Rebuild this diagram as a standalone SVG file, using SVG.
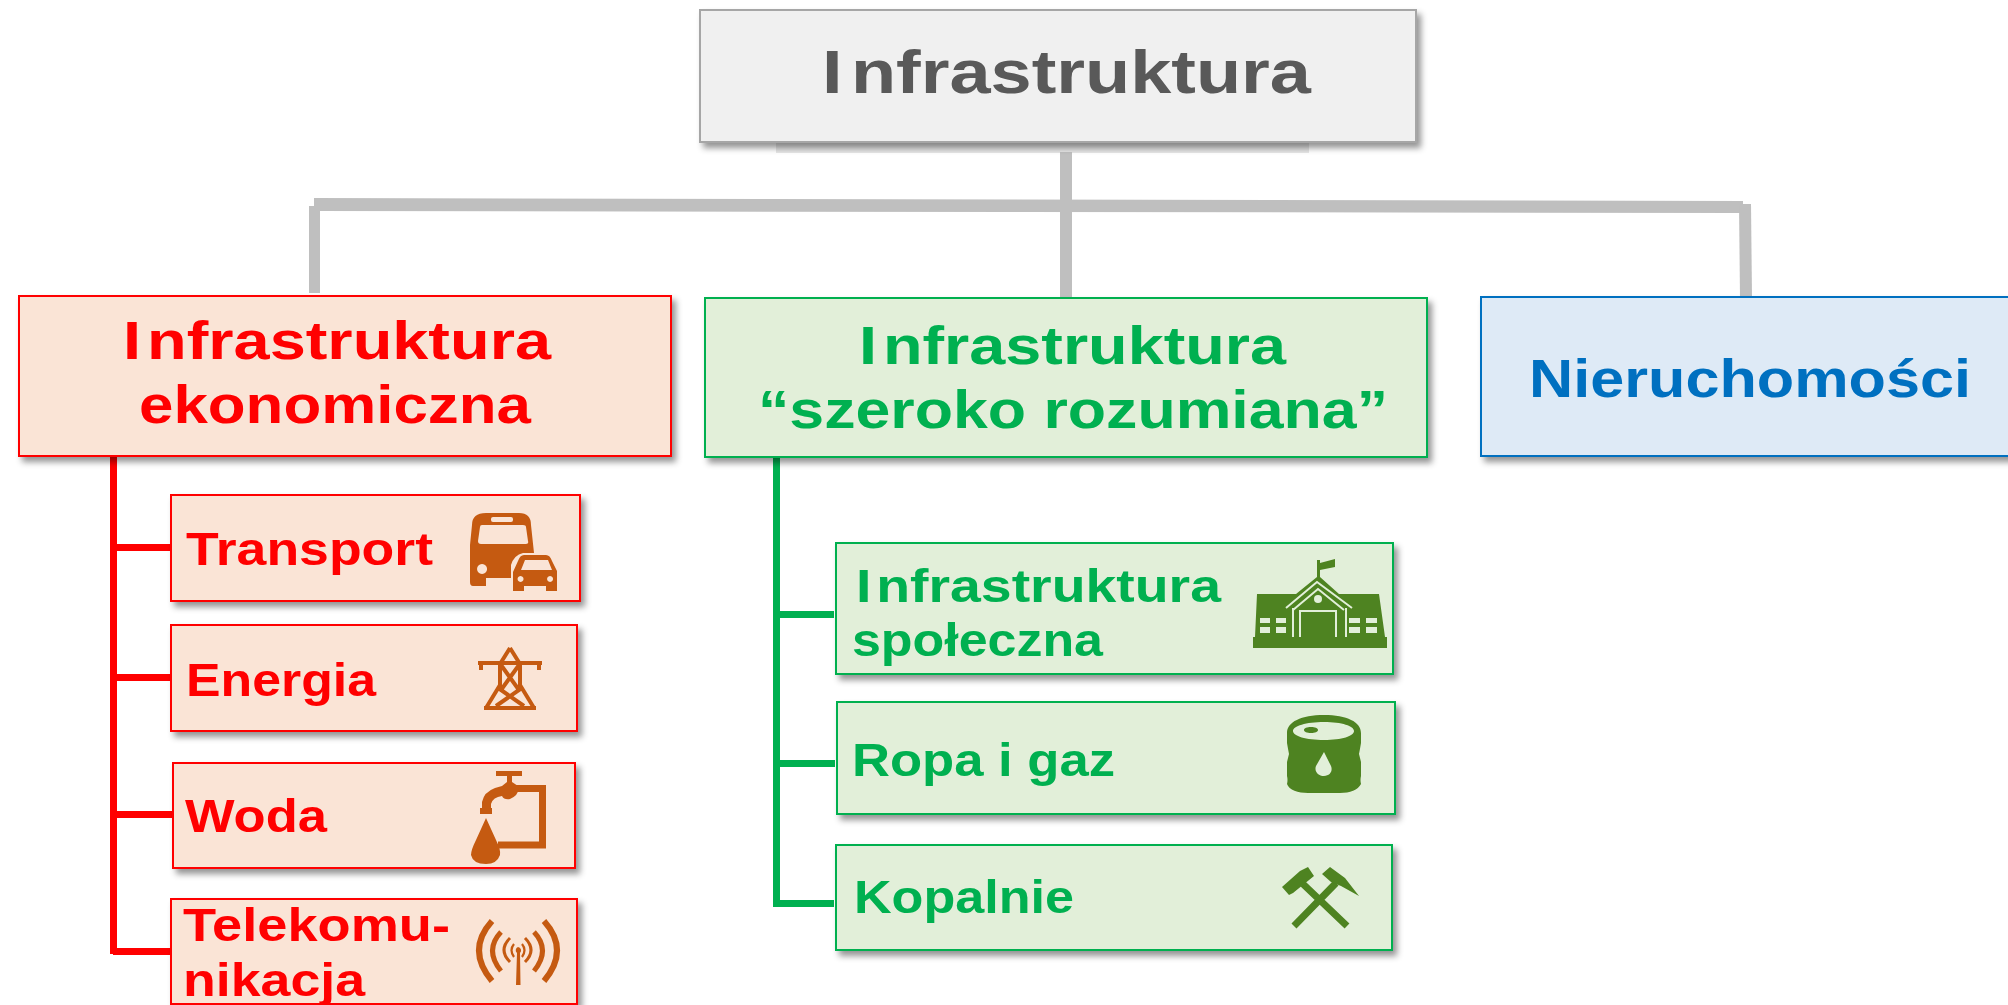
<svg xmlns="http://www.w3.org/2000/svg" width="2008" height="1005" viewBox="0 0 2008 1005">
<style>
text{font-family:"Liberation Sans",Arial,sans-serif;font-weight:bold}
.red text{fill:#ff0000}.grn text{fill:#00b050}.blu text{fill:#0070c0}
.red rect{fill:#fae4d6;stroke:#ff0000;stroke-width:2;filter:url(#sh)}
.grn rect{fill:#e2efd9;stroke:#00b050;stroke-width:2;filter:url(#sh)}
.blu rect{fill:#deeaf6;stroke:#0070c0;stroke-width:2;filter:url(#sh)}
.top rect{fill:#f0f0f0;stroke:#a6a6a6;stroke-width:2;filter:url(#sh)}
.big{font-size:54px}.mid{font-size:46px}
.br{fill:#c55a11}.gi{fill:#4e8321}
.brs{fill:none;stroke:#c55a11}.gis{fill:none;stroke:#4e8321}
.li{fill:none;stroke:#e2efd9}
</style>
<defs>
<filter id="sh" x="-5%" y="-10%" width="112%" height="125%"><feDropShadow dx="4" dy="5" stdDeviation="3" flood-color="#000" flood-opacity=".42"/></filter>
</defs>
<rect x="776" y="142" width="533" height="11" fill="#e6e6e6"/>
<g id="connectors">
<g fill="#bfbfbf">
<polygon points="314,198 1743,201 1743,213 314,211"/>
<rect x="309" y="206" width="11" height="87"/>
<rect x="1060" y="152" width="12" height="145"/>
<polygon points="1739,204 1751,204 1752,298 1740,298"/>
</g>
<g fill="#ff0000">
<rect x="110" y="456" width="7" height="498"/>
<rect x="113" y="544" width="58" height="7"/>
<rect x="110" y="674" width="61" height="7"/>
<rect x="110" y="811" width="63" height="7"/>
<rect x="113" y="948" width="58" height="7"/>
</g>
<g fill="#00b050">
<rect x="773" y="457" width="7" height="450"/>
<rect x="776" y="611" width="58" height="7"/>
<rect x="776" y="760" width="59" height="7"/>
<rect x="776" y="900" width="58" height="7"/>
</g>
</g>
<g id="node-top" class="top"><rect x="700" y="10" width="716" height="132"/>
<text x="822" y="93" font-size="62" fill="#595959" textLength="489" lengthAdjust="spacingAndGlyphs">I<tspan dx="7">nfrastruktura</tspan></text></g>
<g id="node-ekon" class="red"><rect x="19" y="296" width="652" height="160"/>
<text class="big" x="123" y="359" textLength="428" lengthAdjust="spacingAndGlyphs">I<tspan dx="5">nfrastruktura</tspan></text>
<text class="big" x="139" y="423" textLength="392" lengthAdjust="spacingAndGlyphs">ekonomiczna</text></g>
<g id="node-szer" class="grn"><rect x="705" y="298" width="722" height="159"/>
<text class="big" x="859" y="364" textLength="427" lengthAdjust="spacingAndGlyphs">I<tspan dx="5">nfrastruktura</tspan></text>
<text class="big" x="758" y="428" textLength="630" lengthAdjust="spacingAndGlyphs">“szeroko rozumiana”</text></g>
<g id="node-nier" class="blu"><rect x="1481" y="297" width="540" height="159"/>
<text class="big" x="1529" y="397" textLength="442" lengthAdjust="spacingAndGlyphs">Nieruchomości</text></g>

<g id="node-transport" class="red"><rect x="171" y="495" width="409" height="106"/>
<text class="mid" x="186" y="565" textLength="247" lengthAdjust="spacingAndGlyphs">Transport</text>
<path class="br" fill-rule="evenodd" d="M486 513H519Q531 513 531 525L534 553H523Q514 555 511 565V578H486V586H473Q470 586 470 582V545L472 525Q472 513 486 513ZM493 517Q491 517 491 519V520Q491 522 493 522H511Q513 522 513 520V519Q513 517 511 517ZM482 525Q480 525 480 527L478 541Q478 544 481 544H526Q529 544 528 541L526 527Q526 525 523 525ZM482 564a5 5 0 1 0 .1 0Z"/>
<path class="br" fill-rule="evenodd" d="M524 555H546Q550 555 552 561L557 571V591H546V586H524V591H513V572L518 561Q520 555 524 555ZM525 560L521 570H552L548 560ZM520.500 576a3 3 0 1 0 .1 0ZM550 576a3 3 0 1 0 .1 0Z"/>
</g>
<g id="node-energia" class="red"><rect x="171" y="625" width="406" height="106"/>
<text class="mid" x="186" y="696" textLength="190" lengthAdjust="spacingAndGlyphs">Energia</text>
<g class="brs" stroke-width="4"><path d="M510 648L500 664V685L486 708M510 648L520 664V685L534 708M484 708H536M478 663H542M481 663v7M539 663v7M501 665L519 690L496 706M519 665L501 690L524 706"/></g>
</g>
<g id="node-woda" class="red"><rect x="173" y="763" width="402" height="105"/>
<text class="mid" x="185" y="832" textLength="142" lengthAdjust="spacingAndGlyphs">Woda</text>
<path class="brs" stroke-width="7" d="M516 788.500H542.500V845H498"/>
<path class="br" d="M496 771H522V776H512V782L518 786Q520 795 510 799Q504 800 502 796Q493 797 491 804V808H492V814H480V808H482V802Q484 792 495 788L502 786L507 782V776H496Z"/>
<path class="br" d="M486 818L496 840Q501 850 500 855Q497 864 486 864Q473 864 471 855Q471 850 476 840Z"/>
</g>
<g id="node-telekom" class="red"><rect x="171" y="899" width="406" height="105"/>
<text class="mid" x="183" y="941" textLength="267" lengthAdjust="spacingAndGlyphs">Telekomu-</text>
<text class="mid" x="183" y="996" textLength="182" lengthAdjust="spacingAndGlyphs">nikacja</text>
<g class="brs"><path stroke-width="6" d="M492 921Q466 950 492 981M544 921Q570 950 544 981"/><path stroke-width="5" d="M501 932Q484 950 501 971M534 932Q551 950 534 971"/><path stroke-width="3" d="M510 938Q498 950 510 962M525 938Q537 950 525 962"/><path stroke-width="2.200" d="M514 944Q509 950 514 957M522 944Q527 950 522 957"/></g>
<path class="br" d="M518 947a3.500 3.500 0 0 1 2 6L520.500 985H516L517 953a3.500 3.500 0 0 1 1-6Z"/>
</g>

<g id="node-spol" class="grn"><rect x="836" y="543" width="557" height="131"/>
<text class="mid" x="856" y="602" textLength="365" lengthAdjust="spacingAndGlyphs">I<tspan dx="4">nfrastruktura</tspan></text>
<text class="mid" x="852" y="656" textLength="251" lengthAdjust="spacingAndGlyphs">społeczna</text>
<path class="gi" d="M1317 560H1320V563L1335 559V567L1320 570V577L1339 594H1379L1385 637H1387V648H1253V637H1255L1257 594H1296L1317 577Z"/>
<path class="li" stroke-width="2" d="M1286 608L1317 582L1352 608M1293 610L1318 589L1344 610M1293 608V637M1346 608V637M1300 637V611H1336V637"/>
<circle cx="1318" cy="599" r="4" fill="#e2efd9"/>
<path fill="#e2efd9" d="M1260 618h10v5h-10zM1276 618h10v5h-10zM1260 627h10v6h-10zM1276 627h10v6h-10zM1349 618h11v5h-11zM1366 618h11v5h-11zM1349 627h11v6h-11zM1366 627h11v6h-11z"/>
</g>
<g id="node-ropa" class="grn"><rect x="837" y="702" width="558" height="112"/>
<text class="mid" x="852" y="776" textLength="263" lengthAdjust="spacingAndGlyphs">Ropa i gaz</text>
<path class="gi" fill-rule="evenodd" d="M1324 715C1347 715 1361 722 1361 733V743Q1360 749 1359 754Q1360 758 1361 762V776Q1360 780 1361 784C1358 790 1350 793 1340 793H1308C1298 793 1289 790 1287 784Q1288 780 1287 776V762Q1288 758 1289 754Q1288 749 1287 743V733C1287 722 1301 715 1324 715ZM1324 722C1306 722 1293 726 1293 731C1293 736 1306 740 1324 740S1354 736 1354 731C1354 726 1342 722 1324 722ZM1311 727C1307 727 1304 728 1304 730S1307 733 1311 733S1318 732 1318 730S1315 727 1311 727ZM1324 752L1316 766C1314 771 1318 776 1324 776S1333 771 1331 766Z"/>
</g>
<g id="node-kopal" class="grn"><rect x="836" y="845" width="556" height="105"/>
<text class="mid" x="854" y="913" textLength="220" lengthAdjust="spacingAndGlyphs">Kopalnie</text>
<path class="gis" stroke-width="7" d="M1303 884L1347 926M1336 883L1294 926"/>
<path class="gi" d="M1282 887L1289 895L1293 893L1314 876L1308 867L1300 871ZM1322 874L1330 867L1345 878L1359 896L1341 886L1331 882Z"/>
</g>
</svg>
